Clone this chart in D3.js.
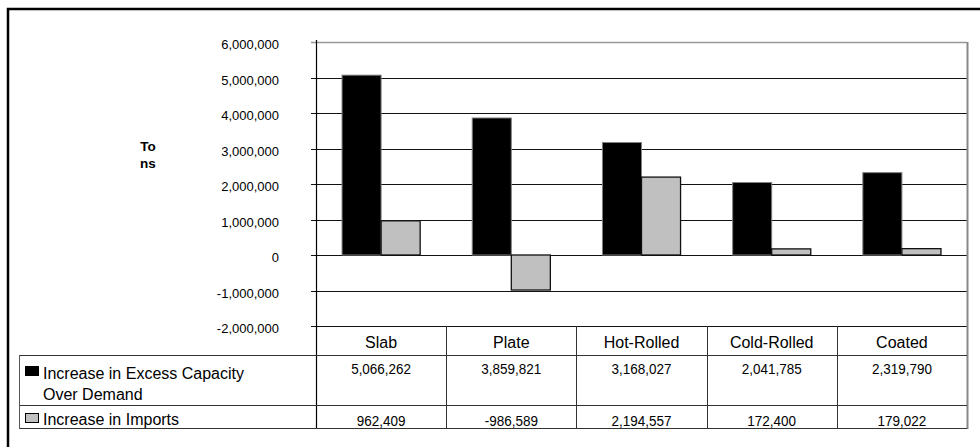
<!DOCTYPE html>
<html lang="en">
<head>
<meta charset="UTF-8">
<script src="https://d3js.org/d3.v7.min.js"></script>
<style>
  body { margin: 0; background: #fff; }
  text { font-family: "Liberation Sans", Arial, sans-serif; }
</style>
</head>
<body>
<div id="chart"></div>
<script>
// data
const categories = ["Slab", "Plate", "Hot-Rolled", "Cold-Rolled", "Coated"];
const seriesNames = ["Increase in Excess Capacity Over Demand", "Increase in Imports"];
const excessCapacity = [5066262, 3859821, 3168027, 2041785, 2319790];
const imports = [962409, -986589, 2194557, 172400, 179022];
const yTicks = [6000000, 5000000, 4000000, 3000000, 2000000, 1000000, 0, -1000000, -2000000];

const width = 980, height = 447;
const plot = { left: 316, right: 967, top: 42, bottom: 326 };
const table = { left: 19, header: 326, row1: 355, row2: 405, bottom: 428 };

// plain hyphen for negatives, like the original
const fmt = v => d3.format(",")(v).replace("\u2212", "-");

const svg = d3.select("#chart").append("svg")
  .attr("width", width)
  .attr("height", height);

// outer frame (runs off the right and bottom)
svg.append("rect")
  .attr("x", 8).attr("y", 9)
  .attr("width", 1000).attr("height", 1000)
  .attr("fill", "none")
  .attr("stroke", "#000")
  .attr("stroke-width", 2.5);

const x = d3.scaleBand()
  .domain(categories)
  .range([plot.left, plot.right]);

const x1 = d3.scaleBand()
  .domain([0, 1])
  .range([x.bandwidth() * 0.2, x.bandwidth() * 0.8]);

const y = d3.scaleLinear()
  .domain([-2000000, 6000000])
  .range([plot.bottom, plot.top]);

// gridlines
svg.append("g")
  .selectAll("line")
  .data(yTicks)
  .join("line")
  .attr("x1", plot.left - 5)
  .attr("x2", plot.right)
  .attr("y1", d => Math.round(y(d)) + 0.5)
  .attr("y2", d => Math.round(y(d)) + 0.5)
  .attr("stroke", d => d === 6000000 ? "#999" : "#111")
  .attr("stroke-width", d => d === 6000000 ? 1.5 : 1);

// y tick labels
svg.append("g")
  .selectAll("text")
  .data(yTicks)
  .join("text")
  .attr("x", 279)
  .attr("y", d => y(d) + 7)
  .attr("text-anchor", "end")
  .style("font-size", "13px")
  .text(fmt);

// axis title
svg.append("text")
  .attr("x", 148).attr("y", 151)
  .attr("text-anchor", "middle")
  .style("font-size", "13.5px").style("font-weight", "bold")
  .text("To");
svg.append("text")
  .attr("x", 148).attr("y", 168)
  .attr("text-anchor", "middle")
  .style("font-size", "13.5px").style("font-weight", "bold")
  .text("ns");

// bars
const rows = categories.map((c, i) => ({ cat: c, vals: [excessCapacity[i], imports[i]] }));
const groups = svg.append("g")
  .selectAll("g")
  .data(rows)
  .join("g")
  .attr("transform", d => `translate(${x(d.cat)},0)`);

groups.selectAll("rect")
  .data(d => d.vals.map((v, k) => ({ v, k })))
  .join("rect")
  .attr("x", d => x1(d.k))
  .attr("width", x1.bandwidth())
  .attr("y", d => y(Math.max(0, d.v)))
  .attr("height", d => Math.abs(y(d.v) - y(0)))
  .attr("fill", d => d.k === 0 ? "#000" : "#c0c0c0")
  .attr("stroke", d => d.k === 0 ? "#808080" : "#111")
  .attr("stroke-width", d => d.k === 0 ? 1 : 1.3);

// plot area border (right side) and axis
svg.append("line")
  .attr("x1", plot.right + 0.5).attr("x2", plot.right + 0.5)
  .attr("y1", plot.top).attr("y2", table.bottom + 1)
  .attr("stroke", "#888").attr("stroke-width", 2);

svg.append("line")
  .attr("x1", plot.left + 0.5).attr("x2", plot.left + 0.5)
  .attr("y1", plot.top - 2).attr("y2", table.bottom + 1)
  .attr("stroke", "#000").attr("stroke-width", 1.2);

// data table
[table.row1, table.row2, table.bottom].forEach(yy => {
  svg.append("line")
    .attr("x1", table.left).attr("x2", plot.right)
    .attr("y1", yy + 0.5).attr("y2", yy + 0.5)
    .attr("stroke", "#333").attr("stroke-width", 1);
});
svg.append("line")
  .attr("x1", table.left + 0.5).attr("x2", table.left + 0.5)
  .attr("y1", table.row1).attr("y2", table.bottom + 1)
  .attr("stroke", "#555").attr("stroke-width", 1);

svg.append("g")
  .selectAll("line")
  .data(categories.slice(1))
  .join("line")
  .attr("x1", d => Math.round(x(d)) + 0.5)
  .attr("x2", d => Math.round(x(d)) + 0.5)
  .attr("y1", table.header)
  .attr("y2", table.bottom + 1)
  .attr("stroke", "#333");

const mid = d => x(d) + x.bandwidth() / 2;

svg.append("g")
  .selectAll("text")
  .data(categories)
  .join("text")
  .attr("x", mid)
  .attr("y", 348)
  .attr("text-anchor", "middle")
  .style("font-size", "16px")
  .text(d => d);

// the figures in the table are set a little narrower than the labels
const numberRow = (vals, baseline) => {
  svg.append("g")
    .selectAll("text")
    .data(vals)
    .join("text")
    .attr("transform", (d, i) => `translate(${mid(categories[i])},${baseline}) scale(0.87,1)`)
    .attr("text-anchor", "middle")
    .style("font-size", "15.5px")
    .text(fmt);
};
numberRow(excessCapacity, 374);
numberRow(imports, 426);

// legend keys inside the table
svg.append("rect")
  .attr("x", 25.5).attr("y", 366.5).attr("width", 13).attr("height", 9)
  .attr("fill", "#000").attr("stroke", "#000");
svg.append("rect")
  .attr("x", 25.5).attr("y", 413.5).attr("width", 13).attr("height", 9)
  .attr("fill", "#c0c0c0").attr("stroke", "#000");

svg.append("text").attr("x", 43).attr("y", 379).style("font-size", "16px")
  .text("Increase in Excess Capacity");
svg.append("text").attr("x", 43).attr("y", 400).style("font-size", "16px")
  .text("Over Demand");
svg.append("text").attr("x", 43).attr("y", 425).style("font-size", "16px")
  .text(seriesNames[1]);
</script>
</body>
</html>
